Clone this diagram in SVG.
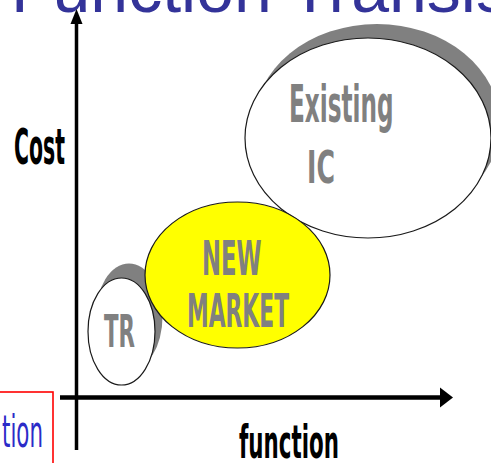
<svg xmlns="http://www.w3.org/2000/svg" width="491" height="463" viewBox="0 0 491 463">
  <style>
    .lbl { font-family: "DejaVu Sans", "Liberation Sans", sans-serif; font-weight: bold; fill: #808080; }
    .axis-lbl { font-family: "DejaVu Sans", "Liberation Sans", sans-serif; font-weight: bold; fill: #000; }
    .shadow { fill: #808080; stroke: none; }
    .outline { stroke: #1a1a1a; stroke-width: 1.2; }
    .axis { stroke: #000; fill: none; }
  </style>
  <defs>
    <marker id="arrowV" markerUnits="userSpaceOnUse" markerWidth="16" markerHeight="14" refX="0" refY="7" orient="auto" viewBox="0 0 16 14">
      <path d="M0,1 L15,7 L0,13 Z" fill="#000"/>
    </marker>
    <marker id="arrowH" markerUnits="userSpaceOnUse" markerWidth="14" markerHeight="22" refX="0" refY="11" orient="auto" viewBox="0 0 14 22">
      <path d="M0,1 L13,11 L0,21 Z" fill="#000"/>
    </marker>
  </defs>
  <rect width="491" height="463" fill="#fff"/>

  <g id="title">
    <text x="11" y="12" font-family="Liberation Sans, Arial, sans-serif" font-size="68" fill="#333399">Function Transis</text>
  </g>

  <g id="caption-box">
    <rect x="-5" y="392" width="58" height="80" fill="none" stroke="#ff0000" stroke-width="1.6"/>
    <text transform="translate(2,447) scale(0.486,1)" font-family="DejaVu Sans, sans-serif" font-size="44" fill="#2b2bc8">tion</text>
  </g>

  <g id="existing-ic">
    <ellipse class="shadow" cx="377" cy="124" rx="123" ry="100"/>
    <ellipse class="outline" cx="368" cy="138" rx="123" ry="100" fill="#fff"/>
    <text class="lbl" transform="translate(289,122) scale(0.454,1)" font-size="51">Existing</text>
    <text class="lbl" transform="translate(307,183) scale(0.562,1)" font-size="45">IC</text>
  </g>

  <g id="tr">
    <ellipse class="shadow" cx="129" cy="317" rx="33.5" ry="53.5"/>
    <ellipse class="outline" cx="121.5" cy="331.5" rx="33.5" ry="53.5" fill="#fff"/>
    <text class="lbl" transform="translate(104,347) scale(0.485,1)" font-size="44">TR</text>
  </g>

  <g id="new-market">
    <ellipse class="outline" cx="237.5" cy="275" rx="92.5" ry="73" fill="#ffff00"/>
    <text class="lbl" transform="translate(202,275) scale(0.474,1)" font-size="48">NEW</text>
    <text class="lbl" transform="translate(187,327) scale(0.464,1)" font-size="47">MARKET</text>
  </g>

  <g id="connectors">
    <line class="axis" x1="76.5" y1="450" x2="76.5" y2="24" stroke-width="3.5" marker-end="url(#arrowV)"/>
    <line class="axis" x1="60" y1="397.5" x2="440" y2="397.5" stroke-width="4.5" marker-end="url(#arrowH)"/>
  </g>

  <g id="axis-labels">
    <text class="axis-lbl" transform="translate(14,164) scale(0.417,1)" font-size="49">Cost</text>
    <text class="axis-lbl" transform="translate(239,458) scale(0.455,1)" font-size="47">function</text>
  </g>
</svg>
